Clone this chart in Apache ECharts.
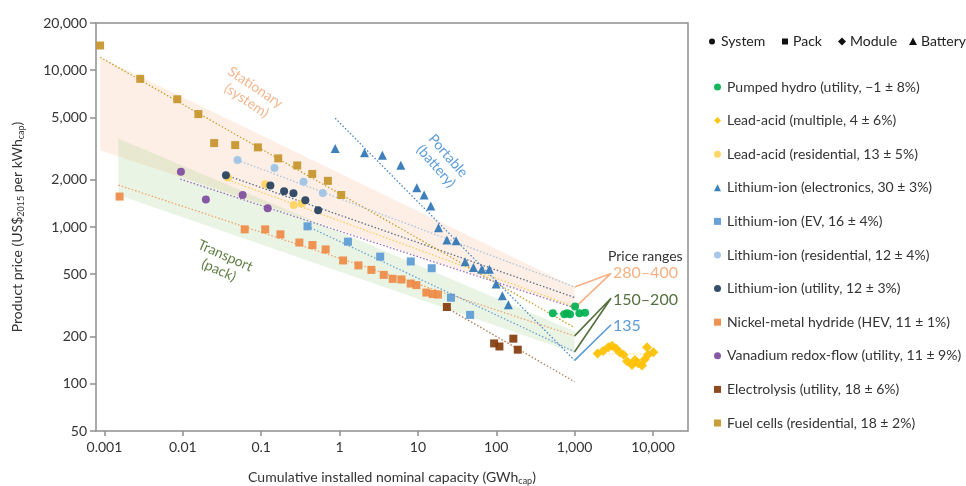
<!DOCTYPE html>
<html><head><meta charset="utf-8">
<script src="https://cdn.jsdelivr.net/npm/echarts@6/dist/echarts.min.js"></script>
<style>html,body{margin:0;padding:0;background:#fff}#c{width:966px;height:486px}</style>
</head><body><div id="c"></div>
<script>
// ---- axes ----
const xTickValues = [0.001, 0.01, 0.1, 1, 10, 100, 1000, 10000];
const yTickValues = [50, 100, 200, 500, 1000, 2000, 5000, 10000, 20000];
const xRange = [0.00078, 27950];
const yRange = [50, 20000];

// ---- series data [GWh, US$/kWh] ----
const pumpedHydro = [[526,282],[740,278],[800,282],[874,278],[1012,311],[1148,282],[1358,284]];
const leadAcidMultiple = [[1960,156],[2300,162],[2690,171],[3000,175],[3370,168],[3740,159],[4200,153],[4660,139],[5400,132],[5890,142],[6440,135],[7240,131],[7800,143],[8630,153],[8380,171],[10100,159]];
const leadAcidResidential = [[0.0376,2065],[0.1125,1875],[0.260,1380],[0.330,1413]];
const liElectronics = [[0.879,3170],[2.08,2970],[3.52,2870],[6.05,2480],[9.68,1780],[12.0,1600],[14.6,1360],[18.3,990],[23.4,826],[30.7,818],[40.0,601],[51.1,551],[65.3,538],[81.7,538],[99.4,433],[119.6,364],[142.6,319]];
const liEV = [[0.39,1010],[1.28,806],[3.30,647],[8.11,603],[15.0,546],[26.4,354],[46.3,275]];
const liResidential = [[0.0499,2670],[0.148,2380],[0.347,1940],[0.612,1650]];
const liUtility = [[0.0355,2140],[0.131,1840],[0.196,1690],[0.258,1640],[0.366,1480],[0.533,1280]];
const nimh = [[0.00156,1563],[0.0616,966],[0.1125,966],[0.176,898],[0.307,796],[0.451,767],[0.665,719],[1.11,612],[1.74,569],[2.55,533],[3.66,495],[4.76,467],[6.16,463],[8.08,436],[9.57,426],[12.8,382],[15.5,374],[18.0,371]];
const vanadium = [[0.00946,2250],[0.0197,1500],[0.058,1600],[0.121,1315]];
const electrolysis = [[23.4,309],[93.8,181],[109.6,173],[165,194],[188,165]];
const fuelCells = [[0.00088,14370],[0.00286,8810],[0.0085,6530],[0.0158,5250],[0.0251,3430],[0.0466,3330],[0.0908,3220],[0.165,2740],[0.288,2470],[0.448,2180],[0.71,1970],[1.05,1600]];

// ---- experience-curve trend lines ----
const trendFuelCells = [[0.00088,12100],[1000,228]];
const trendLiResidential = [[0.0499,2670],[1000,415]];
const trendLiUtility = [[0.0355,2140],[1000,355]];
const trendLeadAcidRes = [[0.038,1990],[1000,310]];
const trendVanadium = [[0.00927,2020],[1000,305]];
const trendNimh = [[0.00151,1850],[1000,202]];
const trendEV = [[0.39,1010],[1000,160]];
const trendLiElectronics = [[0.88,4940],[1000,141]];
const trendElectrolysis = [[23.4,305],[1000,103]];
const trendPumpedHydro = [[526,281],[874,279]];
const trendLeadAcidMulti = [[2440,155],[9160,155]];

// ---- shaded ranges ----
const stationaryBand = [[0.00088,12100],[1000,415],[1000,305],[0.00088,3090]];
const transportBand = [[0.0015,3670],[1000,216],[1000,157],[0.0015,1600]];

// ---- price-range connectors ----
const rangeStationary = [[1000,415],[2912,506],[1000,305]];
const rangeTransport = [[1000,202],[2912,351],[1000,160]];
const rangePortable = [[1000,141],[2912,238]];

const FONT = 'Lato';
const L = Math.log10;
const toLog = arr => arr.map(p => [L(p[0]), L(p[1])]);
const fmtTick = (list) => (v) => {
  const t = list.find(t => Math.abs(L(t) - v) < 1e-6);
  if (t === undefined) return '';
  return t >= 1 ? t.toLocaleString('en-US') : String(t);
};

function band(pts, fill) {
  return {
    type: 'custom', silent: true, z: 1, clip: true,
    data: toLog(pts),
    renderItem: (params, api) => {
      if (params.dataIndex !== 0) return;
      return { type: 'polygon', shape: { points: pts.map(p => api.coord([L(p[0]), L(p[1])])) }, style: { fill } };
    }
  };
}
function trend(pts, color, w) {
  return { type: 'line', silent: true, z: 2, symbol: 'none', data: toLog(pts),
    lineStyle: { color, width: w || 1.3, type: [1.5, 2] } };
}
function conn(pts, color) {
  return { type: 'line', silent: true, z: 2, symbol: 'none', data: toLog(pts),
    lineStyle: { color, width: 1.6, type: 'solid' } };
}
function pts(name, data, symbol, color, size) {
  return { type: 'scatter', name, z: 4, symbol, symbolSize: size || 8, data: toLog(data),
    itemStyle: { color, opacity: 0.92 } };
}

const names = {
  ph: 'Pumped hydro (utility, \u22121 \u00b1 8%)',
  lam: 'Lead-acid (multiple, 4 \u00b1 6%)',
  lar: 'Lead-acid (residential, 13 \u00b1 5%)',
  lie: 'Lithium-ion (electronics, 30 \u00b1 3%)',
  liev: 'Lithium-ion (EV, 16 \u00b1 4%)',
  lir: 'Lithium-ion (residential, 12 \u00b1 4%)',
  liu: 'Lithium-ion (utility, 12 \u00b1 3%)',
  nimh: 'Nickel-metal hydride (HEV, 11 \u00b1 1%)',
  vr: 'Vanadium redox-flow (utility, 11 \u00b1 9%)',
  el: 'Electrolysis (utility, 18 \u00b1 6%)',
  fc: 'Fuel cells (residential, 18 \u00b1 2%)'
};

const axisGray = '#8f8f8f';
const option = {
  animation: false,
  backgroundColor: '#fff',
  textStyle: { fontFamily: FONT },
  grid: { left: 96, right: 278, top: 23, bottom: 55, show: true, borderColor: axisGray, borderWidth: 1.5, containLabel: false, outerBoundsMode: 'none' },
  xAxis: {
    type: 'value', min: L(xRange[0]), max: L(xRange[1]),
    name: 'Cumulative installed nominal capacity (GWh{s|cap})',
    nameLocation: 'middle', nameGap: 38,
    nameTextStyle: { fontFamily: FONT, fontSize: 14, color: '#333', rich: { s: { fontSize: 9, verticalAlign: 'bottom', padding: [8, 0, 0, 0] } } },
    axisLine: { show: false, onZero: false },
    splitLine: { show: false },
    axisTick: { show: true, length: 5, lineStyle: { color: axisGray, width: 1.5 }, customValues: xTickValues.map(L) },
    axisLabel: { customValues: xTickValues.map(L), formatter: fmtTick(xTickValues), fontFamily: FONT, fontSize: 14, color: '#333', margin: 9 }
  },
  yAxis: {
    type: 'value', min: L(yRange[0]), max: L(yRange[1]),
    name: 'Product price (US${s|2015} per kWh{s|cap})',
    nameLocation: 'middle', nameGap: 70,
    nameTextStyle: { fontFamily: FONT, fontSize: 14, color: '#333', rich: { s: { fontSize: 9, verticalAlign: 'bottom', padding: [8, 0, 0, 0] } } },
    axisLine: { show: false, onZero: false },
    splitLine: { show: false },
    axisTick: { show: true, length: 6, lineStyle: { color: axisGray, width: 1.5 }, customValues: yTickValues.map(L) },
    axisLabel: { customValues: yTickValues.map(L), formatter: fmtTick(yTickValues), fontFamily: FONT, fontSize: 14, color: '#333', margin: 9 }
  },
  legend: {
    orient: 'vertical', left: 709, top: 74, itemWidth: 7, itemHeight: 7, itemGap: 17.6,
    selectedMode: false,
    textStyle: { fontFamily: FONT, fontSize: 14, color: '#333', lineHeight: 16, padding: [0, 0, 0, 1] },
    data: [names.ph, names.lam, names.lar, names.lie, names.liev, names.lir, names.liu, names.nimh, names.vr, names.el, names.fc]
  },
  series: [
    band(stationaryBand, 'rgba(244,177,131,0.2)'),
    band(transportBand, 'rgba(169,208,142,0.24)'),
    trend(trendLiResidential, '#a9c3dc'),
    trend(trendLiUtility, '#5b6f86'),
    trend(trendVanadium, '#9b6cb8'),
    trend(trendLeadAcidRes, '#f6cf5a'),
    trend(trendFuelCells, '#c9a030'),
    trend(trendNimh, '#f0a46a'),
    trend(trendEV, '#6aa2d8'),
    trend(trendLiElectronics, '#4a86c5'),
    trend(trendElectrolysis, '#b07a5a'),
    trend(trendPumpedHydro, '#3cc06e', 1.8),
    trend(trendLeadAcidMulti, '#ffe9a8', 1.8),
    conn(rangeStationary, '#f4b183'),
    conn(rangeTransport, '#55703c'),
    conn(rangePortable, '#5b9bd5'),
    pts(names.ph, pumpedHydro, 'circle', '#00b050', 8),
    pts(names.lam, leadAcidMultiple, 'diamond', '#ffc000', 10),
    pts(names.lar, leadAcidResidential, 'circle', '#ffd35c', 8),
    pts(names.lie, liElectronics, 'triangle', '#2e75b6', 9),
    pts(names.liev, liEV, 'rect', '#5b9bd5', 8),
    pts(names.lir, liResidential, 'circle', '#9dc3e6', 8),
    pts(names.liu, liUtility, 'circle', '#23405f', 8),
    pts(names.nimh, nimh, 'rect', '#ee8a45', 8),
    pts(names.vr, vanadium, 'circle', '#7e4a9e', 8),
    pts(names.el, electrolysis, 'rect', '#843c0c', 8),
    pts(names.fc, fuelCells, 'rect', '#c5952a', 8)
  ],
  graphic: [
    { type: 'text', x: 251, y: 94, rotation: -33.7 * Math.PI / 180, z: 5,
      style: { text: 'Stationary\n(system)', fill: '#f4b68e', font: '14px ' + FONT, align: 'center', verticalAlign: 'middle', lineHeight: 16 } },
    { type: 'text', x: 442, y: 161, rotation: -49 * Math.PI / 180, z: 5,
      style: { text: 'Portable\n(battery)', fill: '#5b9bd5', font: '14px ' + FONT, align: 'center', verticalAlign: 'middle', lineHeight: 16 } },
    { type: 'text', x: 222, y: 263, rotation: -24 * Math.PI / 180, z: 5,
      style: { text: 'Transport\n(pack)', fill: '#5f7f45', font: '14px ' + FONT, align: 'center', verticalAlign: 'middle', lineHeight: 16 } },
    { type: 'text', x: 608, y: 256, z: 5, style: { text: 'Price ranges', fill: '#333', font: '14px ' + FONT, align: 'left', verticalAlign: 'middle' } },
    { type: 'text', x: 613, y: 273, z: 5, style: { text: '280\u2013400', fill: '#f4b183', font: '16px ' + FONT, align: 'left', verticalAlign: 'middle' } },
    { type: 'text', x: 613, y: 300, z: 5, style: { text: '150\u2013200', fill: '#55703c', font: '16px ' + FONT, align: 'left', verticalAlign: 'middle' } },
    { type: 'text', x: 613, y: 326, z: 5, style: { text: '135', fill: '#5b9bd5', font: '16px ' + FONT, align: 'left', verticalAlign: 'middle' } },
    // symbol key
    { type: 'circle', shape: { cx: 712, cy: 41.5, r: 3 }, style: { fill: '#111' } },
    { type: 'text', x: 721, y: 41.5, style: { text: 'System', fill: '#222', font: '14px ' + FONT, verticalAlign: 'middle' } },
    { type: 'rect', shape: { x: 782, y: 38.5, width: 6, height: 6 }, style: { fill: '#111' } },
    { type: 'text', x: 793, y: 41.5, style: { text: 'Pack', fill: '#222', font: '14px ' + FONT, verticalAlign: 'middle' } },
    { type: 'polygon', shape: { points: [[842, 37.5], [846, 41.5], [842, 45.5], [838, 41.5]] }, style: { fill: '#111' } },
    { type: 'text', x: 850, y: 41.5, style: { text: 'Module', fill: '#222', font: '14px ' + FONT, verticalAlign: 'middle' } },
    { type: 'polygon', shape: { points: [[913, 37.5], [917, 45], [909, 45]] }, style: { fill: '#111' } },
    { type: 'text', x: 921, y: 41.5, style: { text: 'Battery', fill: '#222', font: '14px ' + FONT, verticalAlign: 'middle' } }
  ]
};
const chart = echarts.init(document.getElementById('c'), null, { renderer: 'canvas' });
chart.setOption(option);
</script></body></html>
